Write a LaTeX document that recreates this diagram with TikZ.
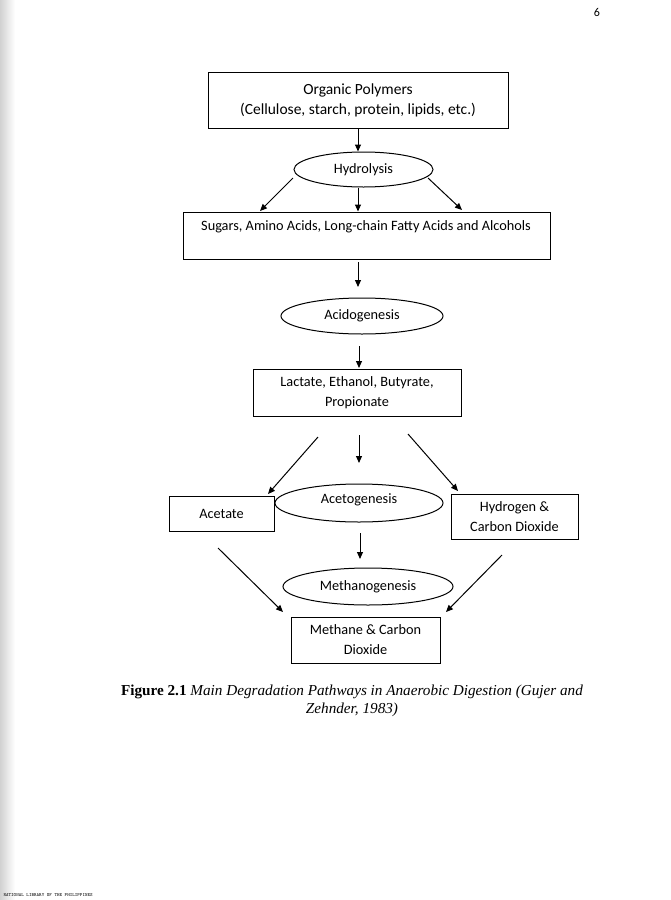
\documentclass[tikz,border=0pt]{standalone}
\usepackage{fontspec}
\setmainfont{Carlito}
\newfontfamily\capfont{Liberation Serif}
\usetikzlibrary{shapes.geometric,arrows.meta}
\begin{document}
\begin{tikzpicture}[x=1pt,y=-1pt,
  txt/.style={font=\fontsize{14.3}{20}\selectfont},
  box/.style={draw,line width=1pt,rectangle,inner sep=0pt,align=center,txt},
  ell/.style={draw,line width=1pt,ellipse,inner sep=0pt,align=center,txt},
  arr/.style={-{Triangle[length=7pt,width=6pt]},line width=1pt}]
\useasboundingbox (0,0) rectangle (671,900);
\shade[left color=black!18,right color=white] (0,0) rectangle (15,900);
\node[font=\fontsize{12}{14}\selectfont] (pg) at (597,12) {6};
% boxes and ellipses
\node[box,minimum width=300pt,minimum height=56pt,font=\fontsize{15.5}{20}\selectfont] (b1) at (358,100) {Organic Polymers\\(Cellulose, starch, protein, lipids, etc.)};
\node[ell,minimum width=139pt,minimum height=35pt] (hyd) at (363.5,169.5) {Hydrolysis};
\node[box,minimum width=367pt,minimum height=47pt] (b2) at (366.5,235.5) {};
\node[txt] (t2) at (366,227) {Sugars, Amino Acids, Long-chain Fatty Acids and Alcohols};
\node[ell,minimum width=162pt,minimum height=36pt] (acid) at (362,316) {Acidogenesis};
\node[box,minimum width=208pt,minimum height=47pt] (b3) at (357,392.5) {Lactate, Ethanol, Butyrate,\\Propionate};
\node[box,minimum width=105pt,minimum height=35pt] (acet) at (221.5,513.5) {Acetate};
\node[ell,minimum width=168pt,minimum height=38pt] (acg) at (359,503) {};
\node[txt] (tacg) at (359,500) {Acetogenesis};
\node[box,minimum width=127pt,minimum height=45pt] (h2) at (514.5,517) {Hydrogen \&\\Carbon Dioxide};
\node[ell,minimum width=170pt,minimum height=37pt] (meth) at (368,586.5) {Methanogenesis};
\node[box,minimum width=149pt,minimum height=46pt] (mc) at (365.5,640) {Methane \& Carbon\\Dioxide};
% free arrow ends
\coordinate (s2) at (293,178);  \coordinate (e2) at (260,211);
\coordinate (s4) at (428,178);  \coordinate (e4) at (462,210);
\coordinate (s5) at (358,262);  \coordinate (e5) at (358,287);
\coordinate (s6) at (359,346);  \coordinate (e6) at (359,368);
\coordinate (s7) at (318,437);  \coordinate (e7) at (268,494);
\coordinate (s8) at (359,435);  \coordinate (e8) at (359,463);
\coordinate (s9) at (408,434);  \coordinate (e9) at (458,491);
\coordinate (s10) at (360,533); \coordinate (e10) at (360,559);
\coordinate (s11) at (218,548); \coordinate (e11) at (283,612);
\coordinate (s12) at (502,555); \coordinate (e12) at (446,612);
% connectors
\draw[arr] (b1.south) -- (b1.south |- hyd.north);
\draw[arr] (s2) -- (e2);
\draw[arr] (hyd.south -| b1.south) -- (b1.south |- b2.north);
\draw[arr] (s4) -- (e4);
\draw[arr] (s5) -- (e5);
\draw[arr] (s6) -- (e6);
\draw[arr] (s7) -- (e7);
\draw[arr] (s8) -- (e8);
\draw[arr] (s9) -- (e9);
\draw[arr] (s10) -- (e10);
\draw[arr] (s11) -- (e11);
\draw[arr] (s12) -- (e12);
% caption
\node[font=\capfont\fontsize{15.2}{18.5}\selectfont,align=center] (cap) at (352,701)
  {\textbf{Figure 2.1} \textit{Main Degradation Pathways in Anaerobic Digestion (Gujer and}\\\textit{Zehnder, 1983)}};
\node[font=\ttfamily\fontsize{4.8}{6}\selectfont,anchor=west] (foot) at (0,895) {NATIONAL LIBRARY OF THE PHILIPPINES};
\end{tikzpicture}
\end{document}
